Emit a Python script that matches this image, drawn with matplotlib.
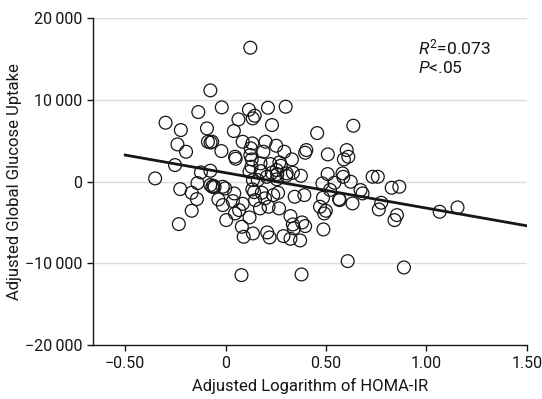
import matplotlib
matplotlib.use('Agg')
import matplotlib.pyplot as plt

# HOMA-IR (log, adjusted) vs adjusted global glucose uptake
homa = [-0.351, -0.299, -0.252, -0.240, -0.223, -0.197, -0.226, -0.233, -0.169, -0.169,
        -0.143, -0.140, -0.136, -0.123, -0.093, -0.076, -0.088, -0.067, -0.076, -0.076,
        -0.066, -0.036, -0.019, -0.021, -0.014, -0.002, -0.014, 0.003, 0.041, 0.047,
        0.050, 0.064, 0.043, 0.036, 0.047, 0.067, 0.081, 0.090, 0.079, 0.085,
        0.116, 0.123, 0.135, 0.145, 0.133, 0.123, 0.130, 0.119, 0.136, 0.133,
        0.142, 0.147, 0.136, 0.119, 0.211, 0.231, 0.199, 0.188, 0.174, 0.223,
        0.180, 0.171, 0.214, 0.207, 0.219, 0.252, 0.268, 0.275, 0.257, 0.261,
        0.266, 0.288, 0.299, 0.292, 0.302, 0.330, 0.335, 0.344, 0.323, 0.335,
        0.340, 0.323, 0.371, 0.375, 0.392, 0.378, 0.402, 0.396, 0.381, 0.396,
        0.456, 0.470, 0.482, 0.485, 0.491, 0.499, 0.487, 0.509, 0.508, 0.542,
        0.565, 0.568, 0.589, 0.603, 0.611, 0.582, 0.623, 0.632, 0.636, 0.608,
        0.672, 0.682, 0.732, 0.758, 0.763, 0.775, 0.827, 0.865, 0.853, 0.841,
        0.888, 1.066, 1.155,
        0.196, 0.237, 0.085, -0.060, -0.055, -0.075, 0.586, 0.520, 0.125, 0.254,
        0.304, 0.129, 0.175, 0.205, 0.230, 0.255, 0.160]
uptake = [408, 7224, 2041, 4571, 6327, 3673, -898, -5184, -3551, -1347,
          -2122, -163, 8531, 1143, 6531, 11184, 4898, 4898, 1347, -408,
          -612, -2163, 9102, 3755, -612, -816, -2857, -4694, 6204, 3061,
          2816, 7633, -1429, -2367, -3878, -3469, -5510, -6735, -11429, 4898,
          8816, 16408, 7755, 8082, 4694, 3265, 2735, 1224, 204, -939,
          -1265, -2245, -6327, -4367, 9061, 6939, 4898, 3673, 2245, 2163,
          -1347, -3265, -3061, -6204, -6816, 4408, 2367, 1959, 939, -1347,
          -3265, -6653, 9184, 3673, 735, 2735, 1102, -1837, -4204, -5224,
          -5714, -6980, -7184, 735, -1633, -11347, 3878, 3551, -4980, -5429,
          5959, -3061, -204, -1959, -3878, -3551, -5837, 3347, 939, -122,
          -2122, -2245, 2735, 3878, 3061, 1020, 0, -2653, 6857, -9714,
          -1020, -1429, 612, 612, -3388, -2571, -735, -612, -4082, -4694,
          -10490, -3673, -3143,
          -2036, -1633, -2700, -500, -650, 4800, 600, -1000, 4100, 1429,
          1020, 1837, 1300, 600, 1100, 300, 200]

# fitted line endpoints
fit_x = [-0.50, 1.50]
fit_y = [3265, -5390]

xticks = [-0.5, 0, 0.5, 1.0, 1.5]
xtick_labels = ['\u22120.50', '0', '0.50', '1.00', '1.50']
yticks = [-20000, -10000, 0, 10000, 20000]
ytick_labels = ['\u221220\u2009000', '\u221210\u2009000', '0', '10\u2009000', '20\u2009000']

plt.rcParams['font.family'] = ['Roboto', 'DejaVu Sans']
plt.rcParams['mathtext.fontset'] = 'custom'
plt.rcParams['mathtext.rm'] = 'Roboto'
plt.rcParams['mathtext.it'] = 'Roboto:italic'

ink = '#161616'

fig = plt.figure(figsize=(5.42, 3.99), dpi=100)
ax = fig.add_axes([0.171, 0.135, 0.801, 0.819])

for v in [-10000, 0, 10000, 20000]:
    ax.axhline(v, color='#dcdcdc', lw=1.0, zorder=0)

ax.scatter(homa, uptake, s=85, facecolors='none', edgecolors=ink, linewidths=0.9, zorder=2)
ax.plot(fit_x, fit_y, color=ink, lw=2.0, zorder=3)

ax.set_xlim(-0.662, 1.5)
ax.set_ylim(-20000, 20000)
ax.set_xticks(xticks)
ax.set_xticklabels(xtick_labels)
ax.set_yticks(yticks)
ax.set_yticklabels(ytick_labels)
ax.tick_params(direction='out', length=4, width=1, labelsize=11.5, color=ink, labelcolor=ink)

for s in ['top', 'right']:
    ax.spines[s].set_visible(False)
for s in ['left', 'bottom']:
    ax.spines[s].set_color(ink)
    ax.spines[s].set_linewidth(1)

ax.set_xlabel('Adjusted Logarithm of HOMA-IR', fontsize=12, color=ink, labelpad=5)
ax.set_ylabel('Adjusted Global Glucose Uptake', fontsize=12, color=ink, labelpad=2)

ax.text(0.958, 16400, r'$R^{2}$=0.073', fontsize=12.5, va='center', ha='left', color=ink)
ax.text(0.958, 13900, r'$P$<.05', fontsize=12.5, va='center', ha='left', color=ink)

fig.savefig('out.png', dpi=100)
